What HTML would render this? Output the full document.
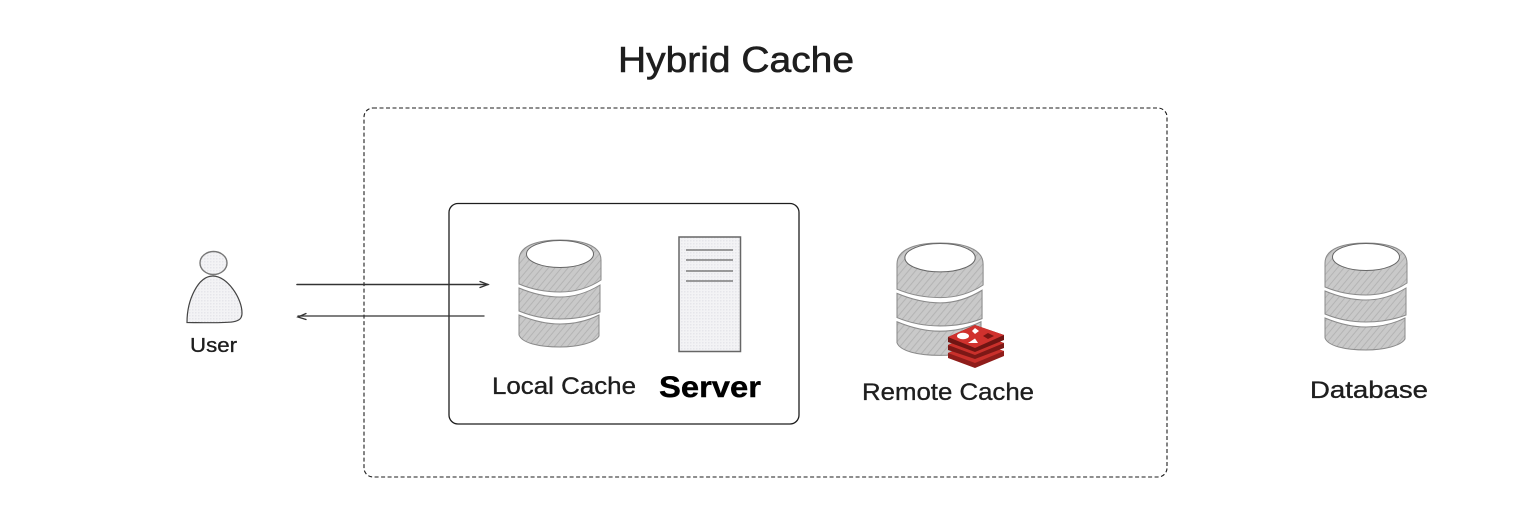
<!DOCTYPE html>
<html><head><meta charset="utf-8"><style>
html,body{margin:0;padding:0;background:#fff;width:1536px;height:522px;overflow:hidden}
svg{display:block}
text{font-family:"Liberation Sans","DejaVu Sans",sans-serif;fill:#1e1e1e;stroke:#1e1e1e;stroke-width:.35}
</style></head><body>
<svg width="1536" height="522" viewBox="0 0 1536 522" xmlns="http://www.w3.org/2000/svg">
<defs>
<pattern id="h" width="5" height="5" patternUnits="userSpaceOnUse" patternTransform="rotate(40)">
<rect width="5" height="5" fill="#c9c9c9"/><rect width="1" height="5" fill="#b4b4b4"/>
</pattern>
<pattern id="d" width="3" height="3" patternUnits="userSpaceOnUse">
<rect width="3" height="3" fill="#f3f3f5"/><rect width="1.500" height="1.500" fill="#e6e6ea"/>
</pattern>
<g id="db">
<path d="M0 20C0 5 20 0 41 0S82 5 82 20V40C70 48 56 52 41 52C25 52 12 49 0 44Z" fill="url(#h)" stroke="#8a8a8a" stroke-width="1"/>
<ellipse cx="41" cy="14" rx="33.500" ry="13.500" fill="#fff" stroke="#666" stroke-width="1"/>
<path d="M0 48C12 53 26 57 41 57C55 57 68 53 81 45V72C68 77 55 79 41 79C25 79 12 76 0 71Z" fill="url(#h)" stroke="#8a8a8a" stroke-width="1"/>
<path d="M0 75C12 80 26 84 41 84C55 84 68 81 80 75V96C76 103 58 107 41 107C20 107 3 103 0 95Z" fill="url(#h)" stroke="#8a8a8a" stroke-width="1"/>
</g>
</defs>

<rect x="364" y="108" width="803" height="369" rx="9" fill="none" stroke="#1e1e1e" stroke-width="1.100" stroke-dasharray="4 2.500"/>
<rect x="449" y="203.500" width="350" height="220.500" rx="9" fill="none" stroke="#1e1e1e" stroke-width="1.300"/>

<text x="618" y="72" font-size="36" textLength="236" lengthAdjust="spacingAndGlyphs" style="stroke-width:.6">Hybrid Cache</text>

<!-- User -->
<ellipse cx="213.500" cy="263" rx="13.500" ry="11.500" fill="url(#d)" stroke="#777" stroke-width="1.400"/>
<path d="M187 322.500C187 300 198 276 213 276C227 276 242 298 242 313C242 324 232 323 187 322.500Z" fill="url(#d)" stroke="#444" stroke-width="1.200"/>
<text x="190" y="352" font-size="20" textLength="47" lengthAdjust="spacingAndGlyphs">User</text>

<!-- Arrows -->
<g fill="none" stroke="#333" stroke-linecap="round">
<path d="M297 284.500H488" stroke-width="1.600"/><path d="M480 281.500L488 284.500L480 287.500" stroke-width="1.300"/>
<path d="M484 316H298" stroke-width="1.300"/><path d="M306 313.500L298 317L306 319.500" stroke-width="1.300"/>
</g>

<!-- Local cache -->
<use href="#db" x="519" y="240"/>
<text x="492" y="394" font-size="24" textLength="144" lengthAdjust="spacingAndGlyphs">Local Cache</text>

<!-- Server -->
<rect x="679" y="237" width="61.500" height="114.500" fill="url(#d)" stroke="#666" stroke-width="1.500"/>
<g stroke="#666" stroke-width="1.300">
<path d="M686 250H733M686 260H733M686 271H733M686 281H733"/>
</g>
<text x="659" y="397" font-size="30" font-weight="700" textLength="102" lengthAdjust="spacingAndGlyphs" style="fill:#000;stroke:#000;stroke-width:.4">Server</text>

<!-- Remote cache -->
<g transform="translate(897,243) scale(1.050,1.050)"><use href="#db"/></g>
<text x="862" y="400" font-size="24" textLength="172" lengthAdjust="spacingAndGlyphs">Remote Cache</text>

<!-- Redis -->
<path d="M948 353L975 342L1004 351V356L975 368L948 358Z" fill="#8f1d1a"/>
<path d="M948 353L975 342L1004 351L975 363Z" fill="#c9302b"/>
<path d="M948 345L975 333L1004 343V348L975 359L948 350Z" fill="#7c1816"/>
<path d="M948 345L975 333L1004 343L975 355Z" fill="#c9302b"/>
<path d="M948 337L975 325L1004 335V340L975 352L948 342Z" fill="#701513"/>
<path d="M948 337L975 325L1004 335L975 348Z" fill="#d0312d"/>
<ellipse cx="963" cy="336" rx="6" ry="3.200" fill="#fff"/>
<path d="M975 328L979 331L975 334L972 331Z" fill="#fff"/>
<path d="M968 343L978 343L975 338.500Z" fill="#fff"/>
<path d="M983 336L988 333L994 336L988 339Z" fill="#7a1512"/>

<!-- Database -->
<use href="#db" x="1325" y="243"/>
<text x="1310" y="398" font-size="24" textLength="118" lengthAdjust="spacingAndGlyphs">Database</text>
</svg>
</body></html>
